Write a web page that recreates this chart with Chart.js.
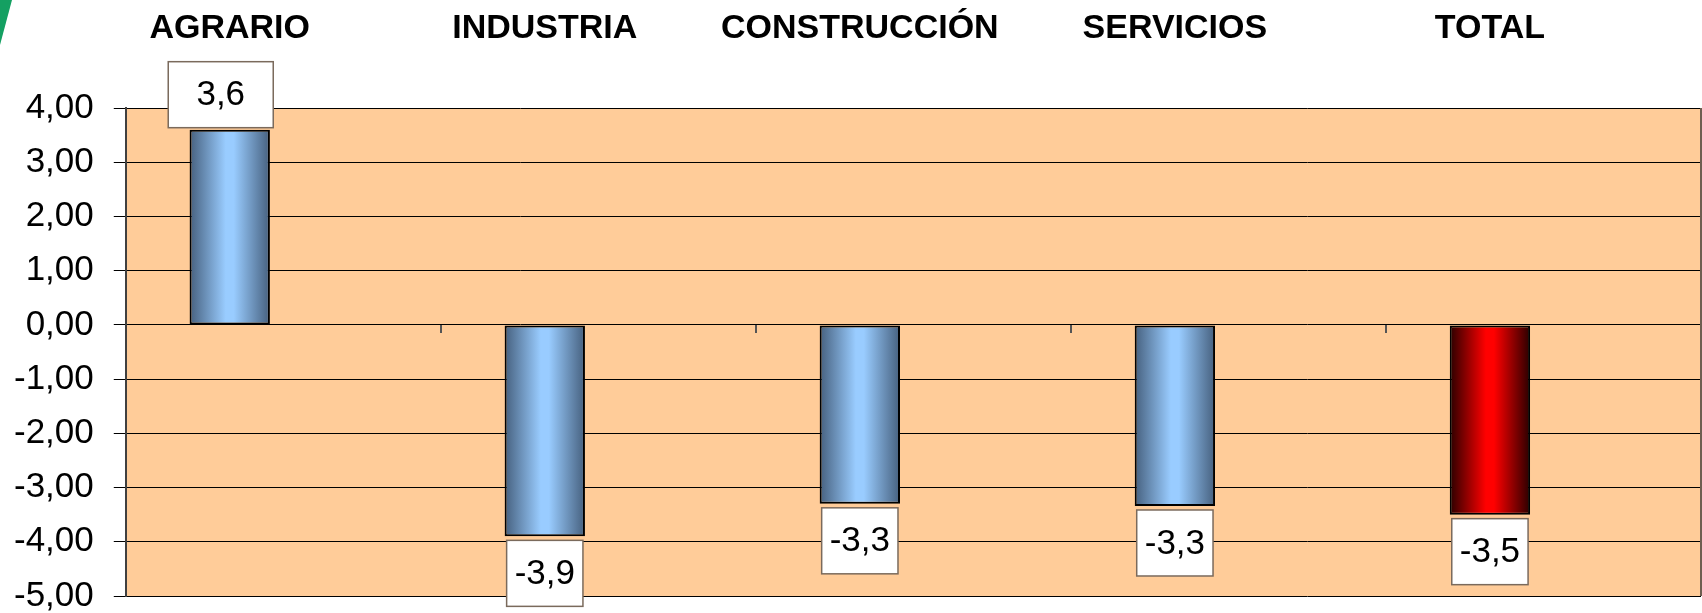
<!DOCTYPE html>
<html lang="es">
<head>
<meta charset="utf-8">
<title>Variación por sectores</title>
<script src="https://cdn.jsdelivr.net/npm/chart.js@4.4.1/dist/chart.umd.min.js"></script>
<style>
    html, body { margin: 0; padding: 0; background: #fff; }
    #wrap { position: relative; width: 1702px; height: 613px; }
    #grafico { display: block; }
    /* trozo de la plantilla de la diapositiva */
    .esquina {
        position: absolute; left: 0; top: 0; width: 12px; height: 45px;
        background: #14a062;
        clip-path: polygon(0 0, 100% 0, 0 100%);
    }
</style>
</head>
<body>
<div id="wrap">
    <canvas id="grafico" width="1702" height="613"></canvas>
    <div class="esquina"></div>
</div>

<script>
/* ================= DATOS ================= */
const categorias = ['AGRARIO', 'INDUSTRIA', 'CONSTRUCCIÓN', 'SERVICIOS', 'TOTAL'];
const variacion = [3.6, -3.9, -3.3, -3.34, -3.5];
// la hoja original tenía una segunda serie vacía: deja el hueco a la derecha de cada barra
const serieVacia = [null, null, null, null, null];
const ejeYMin = -5;
const ejeYMax = 4;
const ejeYPaso = 1;

const FUENTE = "'Liberation Sans', Arial, sans-serif";

/* ================= UTILIDADES ================= */
function formatoComa(v, dec) {
    return v.toFixed(dec).replace('.', ',');
}

function degradadoBarra(c) {
    const el = c.element;
    const total = categorias[c.dataIndex] === 'TOTAL';
    const borde = total ? '#2a0000' : '#46607e';
    const centro = total ? '#ff0000' : '#99ccff';
    if (!el || !isFinite(el.x) || !el.width) return centro;
    const g = c.chart.ctx.createLinearGradient(el.x - el.width / 2, 0, el.x + el.width / 2, 0);
    g.addColorStop(0, borde);
    g.addColorStop(0.45, centro);
    g.addColorStop(0.55, centro);
    g.addColorStop(1, borde);
    return g;
}

/* ================= PLUGINS ================= */
const fondoPlot = {
    id: 'fondoPlot',
    beforeDraw(chart) {
        const { ctx, chartArea: a } = chart;
        ctx.save();
        ctx.fillStyle = '#ffcc99';
        ctx.fillRect(a.left, a.top, a.width, a.height);
        ctx.restore();
    },
    afterDraw(chart) {
        // borde derecho del área de trazado
        const { ctx, chartArea: a } = chart;
        ctx.save();
        ctx.strokeStyle = '#6e5e50';
        ctx.lineWidth = 2;
        ctx.beginPath();
        ctx.moveTo(a.right, a.top);
        ctx.lineTo(a.right, a.bottom);
        ctx.stroke();
        ctx.restore();
    }
};

const etiquetas = {
    id: 'etiquetas',
    afterDatasetsDraw(chart) {
        const { ctx } = chart;
        const meta = chart.getDatasetMeta(0);
        ctx.save();
        meta.data.forEach((bar, i) => {
            const { x, y } = bar.getProps(['x', 'y'], true);
            const v = variacion[i];

            // valor en caja blanca
            const txt = formatoComa(v, 1);
            ctx.font = '35px ' + FUENTE;
            const positivo = v >= 0;
            const w = positivo ? 105 : Math.max(76, ctx.measureText(txt).width + 16);
            const h = 66;
            const cx = positivo ? x - 9 : x;
            const top = positivo ? y - 2 - h : y + 4;
            ctx.fillStyle = '#ffffff';
            ctx.fillRect(cx - w / 2, top, w, h);
            ctx.strokeStyle = '#7a6a5c';
            ctx.lineWidth = 1.5;
            ctx.strokeRect(cx - w / 2, top, w, h);
            ctx.fillStyle = '#000';
            ctx.textAlign = 'center';
            ctx.textBaseline = 'middle';
            ctx.fillText(txt, cx, top + h / 2 + 1);

            // nombre del sector arriba
            ctx.font = 'bold 34px ' + FUENTE;
            ctx.fillText(categorias[i], x, 29);
        });
        ctx.restore();
    }
};

/* ================= GRÁFICO ================= */
const chart = new Chart(document.getElementById('grafico'), {
    type: 'bar',
    data: {
        labels: categorias,
        datasets: [{
            label: 'Variación',
            data: variacion,
            backgroundColor: degradadoBarra,
            borderColor: '#000',
            borderWidth: 2,
            borderSkipped: false,
            categoryPercentage: 0.68,
            barPercentage: 0.75
        }, {
            label: '',
            data: serieVacia,
            categoryPercentage: 0.68,
            barPercentage: 0.75
        }]
    },
    options: {
        responsive: false,
        devicePixelRatio: 1,
        animation: false,
        layout: { padding: { left: -6, right: 1, top: 108, bottom: 17 } },
        plugins: {
            legend: { display: false },
            tooltip: { enabled: false }
        },
        scales: {
            x: {
                type: 'category',
                position: { y: 0 },
                offset: true,
                ticks: { display: false },
                grid: {
                    offset: true,
                    drawOnChartArea: false,
                    drawTicks: true,
                    tickLength: 8,
                    color: '#555',
                    lineWidth: 2
                },
                border: { display: false }
            },
            y: {
                min: ejeYMin,
                max: ejeYMax,
                ticks: {
                    stepSize: ejeYPaso,
                    color: '#000',
                    padding: 20,
                    font: { family: FUENTE, size: 35, lineHeight: 1 },
                    callback: v => formatoComa(v, 2)
                },
                grid: { color: '#000', lineWidth: 1, tickLength: 12 },
                border: { color: '#404040', width: 2 },
                // el -5,00 queda pegado al borde inferior, como en el original
                afterFit: s => { s.paddingTop = 0; s.paddingBottom = 0; }
            }
        }
    },
    plugins: [fondoPlot, etiquetas]
});
// segunda pasada para que el degradado conozca la posición de cada barra
chart.update();
</script>
</body>
</html>
